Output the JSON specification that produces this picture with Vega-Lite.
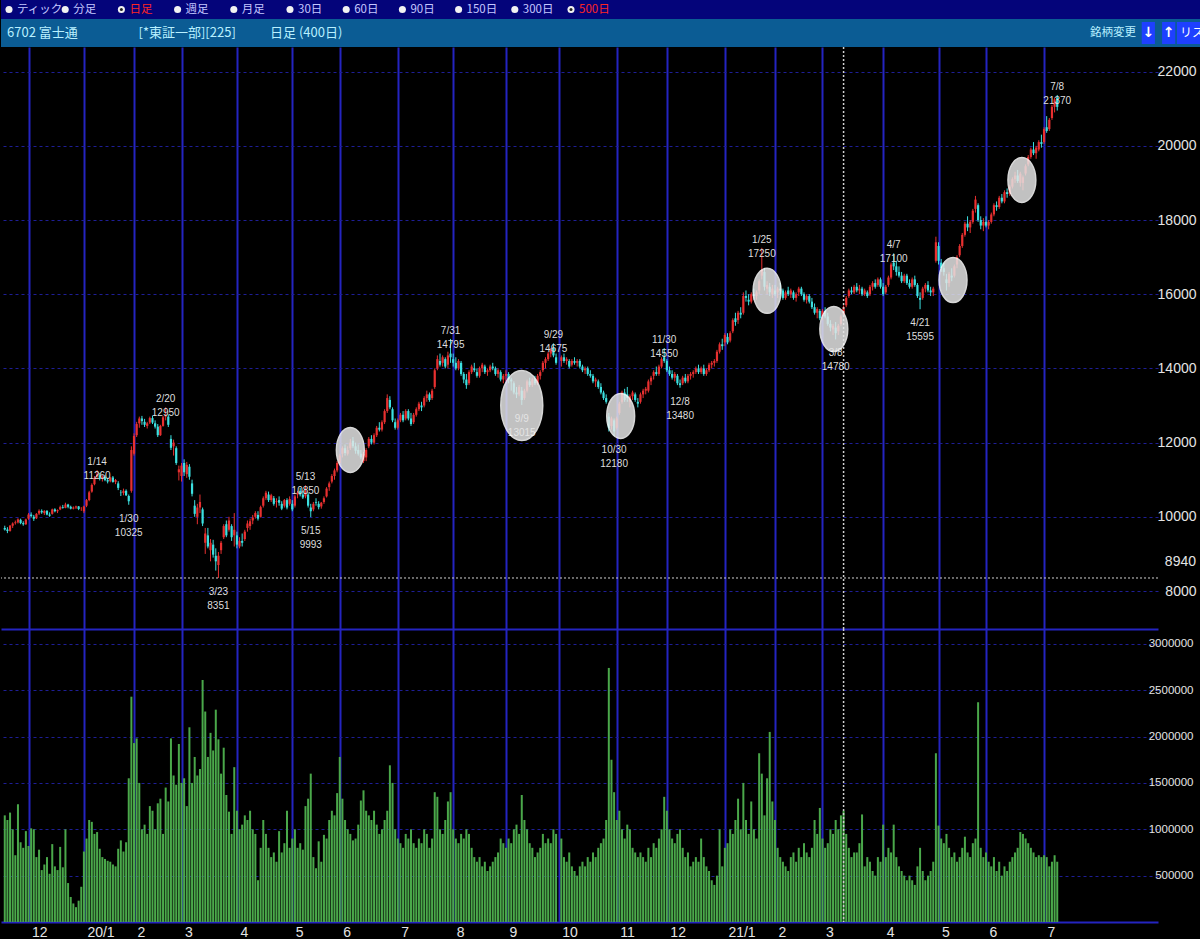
{
"$schema": "https://vega.github.io/schema/vega-lite/v6.json",
"background": "#000000",
"padding": 0,
"spacing": 0,
"bounds": "flush",
"config": {"view": {"stroke": null}, "axis": {"labelFont": "Liberation Sans Narrow, Liberation Sans, sans-serif", "labelColor": "#e4e4e4"}},
"datasets": {
"radio": [{"k":0,"t":"ティック","on":false},{"k":1,"t":"分足","on":false},{"k":2,"t":"日足","on":true},{"k":3,"t":"週足","on":false},{"k":4,"t":"月足","on":false},{"k":5,"t":"30日","on":false},{"k":6,"t":"60日","on":false},{"k":7,"t":"90日","on":false},{"k":8,"t":"150日","on":false},{"k":9,"t":"300日","on":false},{"k":10,"t":"500日","on":true}],
"head": [{"k":0,"t":"6702 富士通"},{"k":1,"t":"[*東証一部][225]"},{"k":2,"t":"日足   (400日)"}],
"btn": [{"b":-1,"t":"銘柄変更"},{"b":0,"t":"↓"},{"b":1,"t":"↑"},{"b":2,"t":"リスト"}],
"cursor": [{"i":318,"p":8351,"lab":"8940"}],
"marks": [{"i":131,"p":11800},{"i":196,"p":13000},{"i":233.5,"p":12720},{"i":289,"p":16090},{"i":314.3,"p":15060},{"i":359.5,"p":16380},{"i":385.6,"p":19080}],
"ann": [
{"i":35,"p":11260,"lbl":"1/14\n11260","k":"hi"},
{"i":47,"p":10325,"lbl":"1/30\n10325","k":"lo"},
{"i":61,"p":12950,"lbl":"2/20\n12950","k":"hi"},
{"i":81,"p":8351,"lbl":"3/23\n8351","k":"lo"},
{"i":114,"p":10850,"lbl":"5/13\n10850","k":"hi"},
{"i":116,"p":9993,"lbl":"5/15\n9993","k":"lo"},
{"i":169,"p":14795,"lbl":"7/31\n14795","k":"hi"},
{"i":196,"p":13015,"lbl":"9/9\n13015","k":"lo"},
{"i":208,"p":14675,"lbl":"9/29\n14675","k":"hi"},
{"i":231,"p":12180,"lbl":"10/30\n12180","k":"lo"},
{"i":250,"p":14550,"lbl":"11/30\n14550","k":"hi"},
{"i":256,"p":13480,"lbl":"12/8\n13480","k":"lo"},
{"i":287,"p":17250,"lbl":"1/25\n17250","k":"hi"},
{"i":315,"p":14780,"lbl":"3/8\n14780","k":"lo"},
{"i":337,"p":17100,"lbl":"4/7\n17100","k":"hi"},
{"i":347,"p":15595,"lbl":"4/21\n15595","k":"lo"},
{"i":399,"p":21370,"lbl":"7/8\n21370","k":"hi"}
],
"ohlc": [
{"i":0,"o":9700,"h":9760,"l":9630,"c":9660,"v":1150000},
{"i":1,"o":9660,"h":9720,"l":9560,"c":9620,"v":1100000},
{"i":2,"o":9620,"h":9780,"l":9600,"c":9760,"v":1180000},
{"i":3,"o":9760,"h":9850,"l":9700,"c":9820,"v":1000000},
{"i":4,"o":9830,"h":9900,"l":9790,"c":9850,"v":720000},
{"i":5,"o":9850,"h":9960,"l":9820,"c":9930,"v":1270000},
{"i":6,"o":9920,"h":9950,"l":9800,"c":9830,"v":860000},
{"i":7,"o":9830,"h":9880,"l":9760,"c":9800,"v":800000},
{"i":8,"o":9800,"h":9950,"l":9780,"c":9930,"v":980000},
{"i":9,"o":9950,"h":10100,"l":9920,"c":10060,"v":820000},
{"i":10,"o":10060,"h":10120,"l":9980,"c":10020,"v":1010000},
{"i":11,"o":10000,"h":10050,"l":9890,"c":9950,"v":1000000},
{"i":12,"o":9960,"h":10100,"l":9940,"c":10080,"v":700000},
{"i":13,"o":10090,"h":10200,"l":10050,"c":10160,"v":780000},
{"i":14,"o":10160,"h":10200,"l":10080,"c":10120,"v":560000},
{"i":15,"o":10100,"h":10180,"l":10050,"c":10160,"v":620000},
{"i":16,"o":10160,"h":10180,"l":10040,"c":10060,"v":700000},
{"i":17,"o":10060,"h":10120,"l":10000,"c":10030,"v":520000},
{"i":18,"o":10080,"h":10220,"l":10060,"c":10200,"v":840000},
{"i":19,"o":10200,"h":10230,"l":10120,"c":10150,"v":600000},
{"i":20,"o":10150,"h":10200,"l":10100,"c":10180,"v":560000},
{"i":21,"o":10200,"h":10300,"l":10180,"c":10260,"v":810000},
{"i":22,"o":10260,"h":10320,"l":10220,"c":10240,"v":590000},
{"i":23,"o":10240,"h":10380,"l":10230,"c":10330,"v":1000000},
{"i":24,"o":10330,"h":10350,"l":10230,"c":10270,"v":420000},
{"i":25,"o":10270,"h":10300,"l":10200,"c":10220,"v":270000},
{"i":26,"o":10220,"h":10280,"l":10200,"c":10250,"v":200000},
{"i":27,"o":10250,"h":10300,"l":10210,"c":10280,"v":160000},
{"i":28,"o":10280,"h":10290,"l":10180,"c":10210,"v":230000},
{"i":29,"o":10200,"h":10260,"l":10160,"c":10200,"v":380000},
{"i":30,"o":10150,"h":10300,"l":10100,"c":10280,"v":760000},
{"i":31,"o":10300,"h":10480,"l":10260,"c":10450,"v":900000},
{"i":32,"o":10450,"h":10700,"l":10420,"c":10660,"v":1100000},
{"i":33,"o":10680,"h":10900,"l":10650,"c":10860,"v":1080000},
{"i":34,"o":10880,"h":11100,"l":10850,"c":11050,"v":950000},
{"i":35,"o":11080,"h":11260,"l":11020,"c":11150,"v":970000},
{"i":36,"o":11120,"h":11180,"l":10980,"c":11020,"v":790000},
{"i":37,"o":11020,"h":11120,"l":10950,"c":11080,"v":700000},
{"i":38,"o":11080,"h":11120,"l":10960,"c":10990,"v":680000},
{"i":39,"o":10990,"h":11050,"l":10900,"c":10950,"v":660000},
{"i":40,"o":10960,"h":11080,"l":10930,"c":11060,"v":650000},
{"i":41,"o":11060,"h":11100,"l":10920,"c":10940,"v":620000},
{"i":42,"o":10940,"h":11020,"l":10880,"c":10990,"v":600000},
{"i":43,"o":10900,"h":10960,"l":10720,"c":10780,"v":790000},
{"i":44,"o":10650,"h":10720,"l":10560,"c":10640,"v":880000},
{"i":45,"o":10640,"h":10760,"l":10580,"c":10700,"v":760000},
{"i":46,"o":10700,"h":10740,"l":10560,"c":10580,"v":860000},
{"i":47,"o":10560,"h":10600,"l":10325,"c":10420,"v":1550000},
{"i":48,"o":10700,"h":11900,"l":10650,"c":11800,"v":2430000},
{"i":49,"o":11700,"h":12250,"l":11650,"c":12180,"v":1930000},
{"i":50,"o":12200,"h":12560,"l":12150,"c":12500,"v":1980000},
{"i":51,"o":12520,"h":12700,"l":12400,"c":12650,"v":1500000},
{"i":52,"o":12650,"h":12720,"l":12480,"c":12580,"v":1000000},
{"i":53,"o":12560,"h":12640,"l":12420,"c":12480,"v":1050000},
{"i":54,"o":12450,"h":12560,"l":12380,"c":12520,"v":950000},
{"i":55,"o":12540,"h":12700,"l":12500,"c":12660,"v":1250000},
{"i":56,"o":12660,"h":12720,"l":12500,"c":12540,"v":1200000},
{"i":57,"o":12520,"h":12600,"l":12380,"c":12430,"v":1000000},
{"i":58,"o":12430,"h":12500,"l":12150,"c":12200,"v":1280000},
{"i":59,"o":12200,"h":12480,"l":12180,"c":12450,"v":1330000},
{"i":60,"o":12450,"h":12720,"l":12430,"c":12680,"v":950000},
{"i":61,"o":12700,"h":12950,"l":12600,"c":12720,"v":1450000},
{"i":62,"o":12700,"h":12760,"l":12420,"c":12480,"v":1300000},
{"i":63,"o":12100,"h":12200,"l":11800,"c":11860,"v":1980000},
{"i":64,"o":11900,"h":12080,"l":11650,"c":12000,"v":1580000},
{"i":65,"o":11850,"h":11900,"l":11400,"c":11450,"v":1480000},
{"i":66,"o":11200,"h":11380,"l":10980,"c":11280,"v":1920000},
{"i":67,"o":11100,"h":11450,"l":10950,"c":11380,"v":1500000},
{"i":68,"o":11450,"h":11550,"l":11100,"c":11200,"v":1550000},
{"i":69,"o":11150,"h":11480,"l":11050,"c":11400,"v":1250000},
{"i":70,"o":11350,"h":11420,"l":11000,"c":11080,"v":2100000},
{"i":71,"o":10900,"h":11000,"l":10550,"c":10620,"v":1500000},
{"i":72,"o":10300,"h":10450,"l":10000,"c":10080,"v":1780000},
{"i":73,"o":10000,"h":10350,"l":9800,"c":10250,"v":1580000},
{"i":74,"o":10250,"h":10600,"l":10100,"c":10400,"v":1650000},
{"i":75,"o":10200,"h":10250,"l":9750,"c":9820,"v":2610000},
{"i":76,"o":9300,"h":9700,"l":9000,"c":9550,"v":2270000},
{"i":77,"o":9500,"h":9700,"l":9150,"c":9200,"v":1780000},
{"i":78,"o":9100,"h":9400,"l":8800,"c":9300,"v":2040000},
{"i":79,"o":9250,"h":9380,"l":8900,"c":8980,"v":1850000},
{"i":80,"o":8950,"h":9150,"l":8550,"c":8800,"v":2290000},
{"i":81,"o":8700,"h":9050,"l":8351,"c":8950,"v":1970000},
{"i":82,"o":9100,"h":9350,"l":9000,"c":9300,"v":1600000},
{"i":83,"o":9450,"h":9800,"l":9400,"c":9750,"v":1880000},
{"i":84,"o":9800,"h":9900,"l":9450,"c":9500,"v":1370000},
{"i":85,"o":9650,"h":10000,"l":9600,"c":9900,"v":1190000},
{"i":86,"o":9750,"h":9800,"l":9350,"c":9450,"v":950000},
{"i":87,"o":9500,"h":10100,"l":9200,"c":9650,"v":1670000},
{"i":88,"o":9500,"h":9600,"l":9150,"c":9250,"v":1200000},
{"i":89,"o":9200,"h":9450,"l":9150,"c":9350,"v":1000000},
{"i":90,"o":9350,"h":9550,"l":9200,"c":9300,"v":1050000},
{"i":91,"o":9400,"h":9650,"l":9350,"c":9600,"v":1150000},
{"i":92,"o":9700,"h":9900,"l":9600,"c":9820,"v":1100000},
{"i":93,"o":9750,"h":9950,"l":9650,"c":9880,"v":1200000},
{"i":94,"o":9900,"h":10050,"l":9800,"c":9980,"v":1000000},
{"i":95,"o":10000,"h":10150,"l":9950,"c":10100,"v":950000},
{"i":96,"o":10050,"h":10150,"l":9900,"c":9950,"v":450000},
{"i":97,"o":10000,"h":10300,"l":9980,"c":10260,"v":800000},
{"i":98,"o":10300,"h":10550,"l":10250,"c":10500,"v":1100000},
{"i":99,"o":10500,"h":10700,"l":10450,"c":10650,"v":950000},
{"i":100,"o":10600,"h":10680,"l":10400,"c":10450,"v":800000},
{"i":101,"o":10450,"h":10620,"l":10400,"c":10580,"v":700000},
{"i":102,"o":10500,"h":10560,"l":10300,"c":10350,"v":750000},
{"i":103,"o":10400,"h":10500,"l":10250,"c":10420,"v":650000},
{"i":104,"o":10450,"h":10550,"l":10300,"c":10380,"v":980000},
{"i":105,"o":10350,"h":10420,"l":10180,"c":10220,"v":750000},
{"i":106,"o":10300,"h":10480,"l":10250,"c":10450,"v":850000},
{"i":107,"o":10450,"h":10500,"l":10200,"c":10250,"v":1200000},
{"i":108,"o":10350,"h":10550,"l":10300,"c":10480,"v":800000},
{"i":109,"o":10350,"h":10450,"l":10150,"c":10200,"v":900000},
{"i":110,"o":10300,"h":10600,"l":10250,"c":10550,"v":1000000},
{"i":111,"o":10600,"h":10700,"l":10500,"c":10650,"v":800000},
{"i":112,"o":10700,"h":10780,"l":10550,"c":10600,"v":850000},
{"i":113,"o":10600,"h":10700,"l":10480,"c":10520,"v":780000},
{"i":114,"o":10550,"h":10850,"l":10500,"c":10700,"v":1250000},
{"i":115,"o":10600,"h":10650,"l":10250,"c":10300,"v":1330000},
{"i":116,"o":10250,"h":10350,"l":9993,"c":10150,"v":1600000},
{"i":117,"o":10200,"h":10400,"l":10150,"c":10350,"v":700000},
{"i":118,"o":10400,"h":10500,"l":10300,"c":10380,"v":580000},
{"i":119,"o":10350,"h":10420,"l":10200,"c":10260,"v":870000},
{"i":120,"o":10280,"h":10400,"l":10220,"c":10380,"v":650000},
{"i":121,"o":10400,"h":10550,"l":10350,"c":10500,"v":940000},
{"i":122,"o":10550,"h":10800,"l":10520,"c":10760,"v":900000},
{"i":123,"o":10800,"h":10950,"l":10700,"c":10900,"v":1100000},
{"i":124,"o":10950,"h":11150,"l":10900,"c":11100,"v":1200000},
{"i":125,"o":11100,"h":11300,"l":11000,"c":11250,"v":1150000},
{"i":126,"o":11250,"h":11500,"l":11200,"c":11450,"v":1390000},
{"i":127,"o":11450,"h":11700,"l":11400,"c":11650,"v":1780000},
{"i":128,"o":11700,"h":11900,"l":11600,"c":11850,"v":1330000},
{"i":129,"o":11850,"h":11950,"l":11650,"c":11720,"v":1100000},
{"i":130,"o":11700,"h":11900,"l":11650,"c":11800,"v":1000000},
{"i":131,"o":11850,"h":12100,"l":11800,"c":12000,"v":950000},
{"i":132,"o":12050,"h":12150,"l":11850,"c":11900,"v":880000},
{"i":133,"o":11900,"h":12000,"l":11700,"c":11780,"v":900000},
{"i":134,"o":11800,"h":11950,"l":11650,"c":11700,"v":1050000},
{"i":135,"o":11700,"h":11800,"l":11550,"c":11600,"v":1310000},
{"i":136,"o":11500,"h":11750,"l":11450,"c":11700,"v":1420000},
{"i":137,"o":11600,"h":11850,"l":11500,"c":11800,"v":1200000},
{"i":138,"o":11900,"h":12150,"l":11850,"c":12100,"v":1150000},
{"i":139,"o":12100,"h":12200,"l":11950,"c":12000,"v":1100000},
{"i":140,"o":12000,"h":12250,"l":11950,"c":12200,"v":1200000},
{"i":141,"o":12200,"h":12450,"l":12150,"c":12400,"v":1050000},
{"i":142,"o":12400,"h":12550,"l":12300,"c":12350,"v":950000},
{"i":143,"o":12350,"h":12600,"l":12300,"c":12550,"v":1000000},
{"i":144,"o":12550,"h":12900,"l":12500,"c":12850,"v":1100000},
{"i":145,"o":12850,"h":13300,"l":12800,"c":13200,"v":1200000},
{"i":146,"o":13150,"h":13250,"l":12900,"c":12950,"v":1690000},
{"i":147,"o":12900,"h":12950,"l":12550,"c":12600,"v":1500000},
{"i":148,"o":12550,"h":12650,"l":12350,"c":12400,"v":1000000},
{"i":149,"o":12400,"h":12650,"l":12350,"c":12600,"v":900000},
{"i":150,"o":12600,"h":12800,"l":12550,"c":12750,"v":850000},
{"i":151,"o":12750,"h":12850,"l":12550,"c":12600,"v":800000},
{"i":152,"o":12650,"h":12900,"l":12600,"c":12850,"v":950000},
{"i":153,"o":12850,"h":12900,"l":12600,"c":12650,"v":900000},
{"i":154,"o":12650,"h":12800,"l":12450,"c":12500,"v":1000000},
{"i":155,"o":12550,"h":12800,"l":12500,"c":12750,"v":850000},
{"i":156,"o":12750,"h":12950,"l":12700,"c":12900,"v":800000},
{"i":157,"o":12900,"h":13100,"l":12850,"c":13050,"v":900000},
{"i":158,"o":13000,"h":13100,"l":12850,"c":12950,"v":850000},
{"i":159,"o":13000,"h":13250,"l":12950,"c":13200,"v":1000000},
{"i":160,"o":13200,"h":13400,"l":13100,"c":13300,"v":950000},
{"i":161,"o":13300,"h":13350,"l":13100,"c":13150,"v":800000},
{"i":162,"o":13200,"h":13450,"l":13150,"c":13400,"v":900000},
{"i":163,"o":13500,"h":14000,"l":13450,"c":13950,"v":1400000},
{"i":164,"o":14000,"h":14350,"l":13950,"c":14250,"v":1350000},
{"i":165,"o":14200,"h":14400,"l":14050,"c":14100,"v":1000000},
{"i":166,"o":14150,"h":14350,"l":14050,"c":14300,"v":950000},
{"i":167,"o":14250,"h":14300,"l":14000,"c":14050,"v":1100000},
{"i":168,"o":14100,"h":14450,"l":14000,"c":14350,"v":1300000},
{"i":169,"o":14400,"h":14795,"l":14150,"c":14300,"v":1400000},
{"i":170,"o":14250,"h":14400,"l":14050,"c":14150,"v":1000000},
{"i":171,"o":14150,"h":14300,"l":13950,"c":14000,"v":900000},
{"i":172,"o":14000,"h":14250,"l":13950,"c":14200,"v":850000},
{"i":173,"o":14150,"h":14200,"l":13800,"c":13850,"v":950000},
{"i":174,"o":13850,"h":13900,"l":13600,"c":13700,"v":900000},
{"i":175,"o":13700,"h":13850,"l":13450,"c":13550,"v":1000000},
{"i":176,"o":13600,"h":13950,"l":13550,"c":13900,"v":950000},
{"i":177,"o":13900,"h":14100,"l":13850,"c":14050,"v":800000},
{"i":178,"o":14000,"h":14150,"l":13900,"c":13950,"v":700000},
{"i":179,"o":13900,"h":14000,"l":13750,"c":13800,"v":650000},
{"i":180,"o":13800,"h":14050,"l":13750,"c":14000,"v":700000},
{"i":181,"o":14000,"h":14150,"l":13900,"c":14100,"v":600000},
{"i":182,"o":14050,"h":14100,"l":13850,"c":13900,"v":650000},
{"i":183,"o":13900,"h":14000,"l":13800,"c":13950,"v":550000},
{"i":184,"o":13950,"h":14100,"l":13900,"c":14050,"v":600000},
{"i":185,"o":14050,"h":14150,"l":13950,"c":14000,"v":650000},
{"i":186,"o":14000,"h":14050,"l":13800,"c":13850,"v":700000},
{"i":187,"o":13850,"h":14000,"l":13750,"c":13950,"v":750000},
{"i":188,"o":13900,"h":13950,"l":13650,"c":13700,"v":900000},
{"i":189,"o":13700,"h":13850,"l":13600,"c":13800,"v":850000},
{"i":190,"o":13800,"h":13950,"l":13650,"c":13850,"v":800000},
{"i":191,"o":13850,"h":13900,"l":13600,"c":13700,"v":900000},
{"i":192,"o":13700,"h":13750,"l":13400,"c":13650,"v":850000},
{"i":193,"o":13600,"h":13650,"l":13300,"c":13350,"v":1000000},
{"i":194,"o":13350,"h":13500,"l":13200,"c":13300,"v":1050000},
{"i":195,"o":13300,"h":13550,"l":13250,"c":13500,"v":950000},
{"i":196,"o":13400,"h":13500,"l":13015,"c":13150,"v":1370000},
{"i":197,"o":13200,"h":13450,"l":13150,"c":13400,"v":1100000},
{"i":198,"o":13400,"h":13700,"l":13350,"c":13650,"v":1000000},
{"i":199,"o":13650,"h":13750,"l":13500,"c":13550,"v":850000},
{"i":200,"o":13550,"h":13750,"l":13500,"c":13700,"v":800000},
{"i":201,"o":13700,"h":13800,"l":13550,"c":13600,"v":700000},
{"i":202,"o":13600,"h":13850,"l":13550,"c":13800,"v":750000},
{"i":203,"o":13800,"h":13950,"l":13700,"c":13900,"v":800000},
{"i":204,"o":13950,"h":14200,"l":13900,"c":14150,"v":950000},
{"i":205,"o":14150,"h":14300,"l":14000,"c":14250,"v":850000},
{"i":206,"o":14250,"h":14450,"l":14200,"c":14400,"v":900000},
{"i":207,"o":14400,"h":14550,"l":14300,"c":14500,"v":850000},
{"i":208,"o":14550,"h":14675,"l":14300,"c":14350,"v":1000000},
{"i":209,"o":14300,"h":14400,"l":14100,"c":14150,"v":950000},
{"i":210,"o":14150,"h":14150,"l":14150,"c":14150,"v":0},
{"i":211,"o":14200,"h":14350,"l":14050,"c":14300,"v":900000},
{"i":212,"o":14300,"h":14400,"l":14150,"c":14200,"v":700000},
{"i":213,"o":14200,"h":14300,"l":14100,"c":14250,"v":650000},
{"i":214,"o":14200,"h":14250,"l":14000,"c":14050,"v":750000},
{"i":215,"o":14100,"h":14250,"l":14050,"c":14200,"v":600000},
{"i":216,"o":14200,"h":14300,"l":14100,"c":14150,"v":550000},
{"i":217,"o":14150,"h":14250,"l":14050,"c":14200,"v":500000},
{"i":218,"o":14200,"h":14250,"l":14000,"c":14050,"v":600000},
{"i":219,"o":14050,"h":14100,"l":13900,"c":13950,"v":650000},
{"i":220,"o":13950,"h":14050,"l":13850,"c":14000,"v":600000},
{"i":221,"o":14000,"h":14050,"l":13800,"c":13850,"v":700000},
{"i":222,"o":13850,"h":13950,"l":13750,"c":13800,"v":650000},
{"i":223,"o":13800,"h":13850,"l":13600,"c":13650,"v":750000},
{"i":224,"o":13650,"h":13750,"l":13500,"c":13700,"v":700000},
{"i":225,"o":13650,"h":13700,"l":13450,"c":13500,"v":800000},
{"i":226,"o":13500,"h":13600,"l":13300,"c":13350,"v":850000},
{"i":227,"o":13350,"h":13400,"l":13150,"c":13200,"v":900000},
{"i":228,"o":13200,"h":13300,"l":13050,"c":13100,"v":1100000},
{"i":229,"o":12700,"h":12800,"l":12300,"c":12400,"v":2740000},
{"i":230,"o":12450,"h":12700,"l":12350,"c":12650,"v":1750000},
{"i":231,"o":12600,"h":12650,"l":12180,"c":12300,"v":1400000},
{"i":232,"o":12400,"h":12700,"l":12350,"c":12650,"v":1100000},
{"i":233,"o":12800,"h":13100,"l":12750,"c":13050,"v":1200000},
{"i":234,"o":13100,"h":13400,"l":13050,"c":13350,"v":1000000},
{"i":235,"o":13350,"h":13450,"l":13100,"c":13150,"v":900000},
{"i":236,"o":13300,"h":13500,"l":13100,"c":13200,"v":1050000},
{"i":237,"o":13100,"h":13300,"l":12950,"c":13250,"v":1000000},
{"i":238,"o":13250,"h":13400,"l":13150,"c":13350,"v":800000},
{"i":239,"o":13300,"h":13350,"l":13100,"c":13150,"v":750000},
{"i":240,"o":13100,"h":13200,"l":12950,"c":13050,"v":700000},
{"i":241,"o":13100,"h":13350,"l":13050,"c":13300,"v":750000},
{"i":242,"o":13300,"h":13450,"l":13200,"c":13400,"v":700000},
{"i":243,"o":13400,"h":13500,"l":13300,"c":13450,"v":650000},
{"i":244,"o":13400,"h":13700,"l":13350,"c":13650,"v":800000},
{"i":245,"o":13650,"h":13800,"l":13550,"c":13750,"v":700000},
{"i":246,"o":13800,"h":13950,"l":13700,"c":13900,"v":850000},
{"i":247,"o":13900,"h":14050,"l":13800,"c":13850,"v":800000},
{"i":248,"o":13850,"h":14100,"l":13800,"c":14050,"v":900000},
{"i":249,"o":14050,"h":14300,"l":14000,"c":14250,"v":1000000},
{"i":250,"o":14300,"h":14550,"l":14150,"c":14200,"v":1350000},
{"i":251,"o":14200,"h":14250,"l":13900,"c":13950,"v":1200000},
{"i":252,"o":13950,"h":14050,"l":13800,"c":13850,"v":1000000},
{"i":253,"o":13850,"h":13950,"l":13700,"c":13750,"v":900000},
{"i":254,"o":13750,"h":13900,"l":13650,"c":13850,"v":850000},
{"i":255,"o":13800,"h":13850,"l":13550,"c":13600,"v":950000},
{"i":256,"o":13600,"h":13700,"l":13480,"c":13550,"v":1000000},
{"i":257,"o":13600,"h":13800,"l":13550,"c":13750,"v":800000},
{"i":258,"o":13750,"h":13850,"l":13600,"c":13650,"v":700000},
{"i":259,"o":13650,"h":13850,"l":13600,"c":13800,"v":750000},
{"i":260,"o":13800,"h":13900,"l":13700,"c":13850,"v":600000},
{"i":261,"o":13850,"h":13950,"l":13750,"c":13900,"v":650000},
{"i":262,"o":13900,"h":14050,"l":13850,"c":14000,"v":700000},
{"i":263,"o":14000,"h":14100,"l":13850,"c":13900,"v":650000},
{"i":264,"o":13900,"h":14050,"l":13850,"c":14000,"v":900000},
{"i":265,"o":14000,"h":14100,"l":13800,"c":13850,"v":700000},
{"i":266,"o":13850,"h":14000,"l":13800,"c":13950,"v":600000},
{"i":267,"o":13950,"h":14150,"l":13900,"c":14100,"v":550000},
{"i":268,"o":14100,"h":14200,"l":14000,"c":14150,"v":450000},
{"i":269,"o":14150,"h":14250,"l":14050,"c":14200,"v":400000},
{"i":270,"o":14200,"h":14500,"l":14150,"c":14450,"v":500000},
{"i":271,"o":14450,"h":14700,"l":14400,"c":14650,"v":1000000},
{"i":272,"o":14650,"h":14800,"l":14500,"c":14600,"v":600000},
{"i":273,"o":14700,"h":14950,"l":14600,"c":14900,"v":800000},
{"i":274,"o":14850,"h":14950,"l":14650,"c":14700,"v":850000},
{"i":275,"o":14750,"h":15000,"l":14700,"c":14950,"v":1000000},
{"i":276,"o":15000,"h":15350,"l":14950,"c":15300,"v":950000},
{"i":277,"o":15350,"h":15500,"l":15150,"c":15250,"v":1100000},
{"i":278,"o":15300,"h":15550,"l":15200,"c":15500,"v":1330000},
{"i":279,"o":15500,"h":15650,"l":15350,"c":15450,"v":1000000},
{"i":280,"o":15500,"h":16050,"l":15450,"c":15950,"v":1500000},
{"i":281,"o":15950,"h":16100,"l":15800,"c":15900,"v":1100000},
{"i":282,"o":15850,"h":16000,"l":15700,"c":15800,"v":950000},
{"i":283,"o":15800,"h":16050,"l":15750,"c":16000,"v":1300000},
{"i":284,"o":16000,"h":16150,"l":15850,"c":15950,"v":1000000},
{"i":285,"o":15950,"h":16100,"l":15850,"c":16050,"v":900000},
{"i":286,"o":16100,"h":16400,"l":16000,"c":16350,"v":1820000},
{"i":287,"o":16500,"h":17250,"l":16400,"c":16650,"v":1600000},
{"i":288,"o":16600,"h":16700,"l":16100,"c":16200,"v":1150000},
{"i":289,"o":16150,"h":16350,"l":16000,"c":16250,"v":1550000},
{"i":290,"o":16200,"h":16300,"l":15950,"c":16050,"v":2050000},
{"i":291,"o":16000,"h":16250,"l":15900,"c":16150,"v":1300000},
{"i":292,"o":16100,"h":16250,"l":15950,"c":16000,"v":1100000},
{"i":293,"o":16050,"h":16200,"l":15900,"c":16150,"v":800000},
{"i":294,"o":16150,"h":16300,"l":16000,"c":16100,"v":700000},
{"i":295,"o":16100,"h":16150,"l":15850,"c":15900,"v":650000},
{"i":296,"o":15900,"h":16100,"l":15850,"c":16050,"v":600000},
{"i":297,"o":16100,"h":16200,"l":15950,"c":16000,"v":550000},
{"i":298,"o":16000,"h":16150,"l":15900,"c":16100,"v":700000},
{"i":299,"o":16050,"h":16100,"l":15850,"c":15900,"v":750000},
{"i":300,"o":15900,"h":16050,"l":15800,"c":16000,"v":650000},
{"i":301,"o":16050,"h":16200,"l":15950,"c":16150,"v":800000},
{"i":302,"o":16150,"h":16200,"l":15950,"c":16000,"v":700000},
{"i":303,"o":16000,"h":16050,"l":15800,"c":15850,"v":850000},
{"i":304,"o":15850,"h":16000,"l":15750,"c":15950,"v":750000},
{"i":305,"o":15950,"h":16000,"l":15750,"c":15800,"v":700000},
{"i":306,"o":15800,"h":15900,"l":15600,"c":15650,"v":800000},
{"i":307,"o":15650,"h":15750,"l":15450,"c":15500,"v":1100000},
{"i":308,"o":15500,"h":15650,"l":15350,"c":15600,"v":950000},
{"i":309,"o":15550,"h":15600,"l":15300,"c":15350,"v":1230000},
{"i":310,"o":15400,"h":15600,"l":15300,"c":15550,"v":900000},
{"i":311,"o":15550,"h":15650,"l":15350,"c":15400,"v":800000},
{"i":312,"o":15400,"h":15500,"l":15150,"c":15200,"v":850000},
{"i":313,"o":15200,"h":15300,"l":15000,"c":15100,"v":1000000},
{"i":314,"o":15050,"h":15200,"l":14900,"c":15150,"v":950000},
{"i":315,"o":15100,"h":15250,"l":14780,"c":14950,"v":1100000},
{"i":316,"o":15000,"h":15200,"l":14900,"c":15150,"v":1000000},
{"i":317,"o":15200,"h":15450,"l":15150,"c":15400,"v":1150000},
{"i":318,"o":15450,"h":15700,"l":15400,"c":15650,"v":1200000},
{"i":319,"o":15700,"h":15950,"l":15650,"c":15900,"v":950000},
{"i":320,"o":15950,"h":16150,"l":15900,"c":16100,"v":800000},
{"i":321,"o":16100,"h":16200,"l":16000,"c":16050,"v":700000},
{"i":322,"o":16050,"h":16250,"l":16000,"c":16200,"v":750000},
{"i":323,"o":16200,"h":16300,"l":16050,"c":16100,"v":750000},
{"i":324,"o":16100,"h":16250,"l":16000,"c":16150,"v":850000},
{"i":325,"o":16150,"h":16200,"l":15950,"c":16000,"v":1160000},
{"i":326,"o":16000,"h":16150,"l":15950,"c":16100,"v":600000},
{"i":327,"o":16050,"h":16100,"l":15900,"c":15950,"v":700000},
{"i":328,"o":16000,"h":16250,"l":15950,"c":16200,"v":650000},
{"i":329,"o":16200,"h":16350,"l":16100,"c":16300,"v":550000},
{"i":330,"o":16300,"h":16400,"l":16150,"c":16200,"v":500000},
{"i":331,"o":16250,"h":16450,"l":16200,"c":16400,"v":700000},
{"i":332,"o":16400,"h":16450,"l":16150,"c":16200,"v":650000},
{"i":333,"o":16200,"h":16300,"l":15950,"c":16000,"v":1050000},
{"i":334,"o":16050,"h":16250,"l":16000,"c":16200,"v":700000},
{"i":335,"o":16250,"h":16500,"l":16200,"c":16450,"v":800000},
{"i":336,"o":16450,"h":16850,"l":16400,"c":16800,"v":750000},
{"i":337,"o":16850,"h":17100,"l":16650,"c":16750,"v":1050000},
{"i":338,"o":16750,"h":16900,"l":16500,"c":16600,"v":700000},
{"i":339,"o":16600,"h":16750,"l":16450,"c":16500,"v":600000},
{"i":340,"o":16500,"h":16600,"l":16300,"c":16350,"v":550000},
{"i":341,"o":16350,"h":16550,"l":16300,"c":16500,"v":500000},
{"i":342,"o":16500,"h":16550,"l":16250,"c":16300,"v":450000},
{"i":343,"o":16300,"h":16400,"l":16150,"c":16200,"v":500000},
{"i":344,"o":16200,"h":16450,"l":16150,"c":16400,"v":450000},
{"i":345,"o":16400,"h":16500,"l":16200,"c":16250,"v":400000},
{"i":346,"o":16250,"h":16300,"l":15900,"c":15950,"v":600000},
{"i":347,"o":15900,"h":16050,"l":15595,"c":15850,"v":800000},
{"i":348,"o":15900,"h":16200,"l":15850,"c":16150,"v":550000},
{"i":349,"o":16150,"h":16300,"l":16050,"c":16250,"v":450000},
{"i":350,"o":16250,"h":16350,"l":16050,"c":16100,"v":500000},
{"i":351,"o":16100,"h":16200,"l":15950,"c":16050,"v":550000},
{"i":352,"o":16050,"h":16200,"l":15950,"c":16150,"v":650000},
{"i":353,"o":16900,"h":17550,"l":16850,"c":17400,"v":1820000},
{"i":354,"o":17300,"h":17400,"l":16800,"c":16900,"v":1040000},
{"i":355,"o":16850,"h":16950,"l":16600,"c":16700,"v":900000},
{"i":356,"o":16700,"h":16850,"l":16500,"c":16600,"v":850000},
{"i":357,"o":16400,"h":16550,"l":16100,"c":16300,"v":950000},
{"i":358,"o":16300,"h":16600,"l":16200,"c":16550,"v":800000},
{"i":359,"o":16500,"h":16700,"l":16350,"c":16450,"v":700000},
{"i":360,"o":16500,"h":16800,"l":16450,"c":16750,"v":750000},
{"i":361,"o":16800,"h":17050,"l":16700,"c":17000,"v":650000},
{"i":362,"o":17050,"h":17350,"l":17000,"c":17300,"v":700000},
{"i":363,"o":17300,"h":17650,"l":17250,"c":17600,"v":800000},
{"i":364,"o":17600,"h":17950,"l":17550,"c":17900,"v":920000},
{"i":365,"o":17900,"h":18100,"l":17700,"c":17800,"v":750000},
{"i":366,"o":17800,"h":18000,"l":17650,"c":17950,"v":700000},
{"i":367,"o":17950,"h":18300,"l":17900,"c":18250,"v":850000},
{"i":368,"o":18300,"h":18650,"l":18200,"c":18550,"v":900000},
{"i":369,"o":18400,"h":18450,"l":17950,"c":18000,"v":2370000},
{"i":370,"o":18000,"h":18100,"l":17750,"c":17850,"v":800000},
{"i":371,"o":17850,"h":18050,"l":17700,"c":17950,"v":700000},
{"i":372,"o":17950,"h":18100,"l":17800,"c":17850,"v":750000},
{"i":373,"o":17850,"h":18000,"l":17750,"c":17950,"v":650000},
{"i":374,"o":17950,"h":18200,"l":17900,"c":18150,"v":600000},
{"i":375,"o":18150,"h":18450,"l":18100,"c":18400,"v":700000},
{"i":376,"o":18400,"h":18500,"l":18250,"c":18350,"v":550000},
{"i":377,"o":18350,"h":18650,"l":18300,"c":18600,"v":650000},
{"i":378,"o":18600,"h":18700,"l":18450,"c":18500,"v":500000},
{"i":379,"o":18500,"h":18800,"l":18450,"c":18750,"v":600000},
{"i":380,"o":18750,"h":18850,"l":18600,"c":18700,"v":550000},
{"i":381,"o":18700,"h":18950,"l":18650,"c":18900,"v":650000},
{"i":382,"o":18900,"h":19150,"l":18850,"c":19100,"v":700000},
{"i":383,"o":19100,"h":19300,"l":19000,"c":19200,"v":750000},
{"i":384,"o":19200,"h":19350,"l":19000,"c":19050,"v":800000},
{"i":385,"o":19000,"h":19300,"l":18900,"c":19250,"v":970000},
{"i":386,"o":19000,"h":19200,"l":18800,"c":19150,"v":950000},
{"i":387,"o":19250,"h":19500,"l":19200,"c":19450,"v":900000},
{"i":388,"o":19500,"h":19750,"l":19450,"c":19700,"v":850000},
{"i":389,"o":19700,"h":19950,"l":19650,"c":19900,"v":800000},
{"i":390,"o":19900,"h":20100,"l":19750,"c":19800,"v":750000},
{"i":391,"o":19800,"h":20000,"l":19650,"c":19950,"v":700000},
{"i":392,"o":19900,"h":20150,"l":19850,"c":20100,"v":720000},
{"i":393,"o":20100,"h":20300,"l":19950,"c":20050,"v":700000},
{"i":394,"o":20100,"h":20500,"l":20050,"c":20450,"v":720000},
{"i":395,"o":20500,"h":20800,"l":20350,"c":20400,"v":700000},
{"i":396,"o":20450,"h":20750,"l":20400,"c":20700,"v":600000},
{"i":397,"o":20750,"h":21100,"l":20700,"c":21050,"v":650000},
{"i":398,"o":21050,"h":21300,"l":20900,"c":21250,"v":720000},
{"i":399,"o":21300,"h":21370,"l":20950,"c":21050,"v":650000}
]
},
"vconcat": [
{
"width": 1200, "height": 19,
"view": {"fill": "#04047a", "stroke": null},
"data": {"name": "radio"},
"encoding": {"x": {"field": "k", "type": "ordinal", "scale": {"type": "point", "padding": 0, "domain": [0,1,2,3,4,5,6,7,8,9,10], "range": [8, 570]}, "axis": null}},
"layer": [
{"mark": {"type": "point", "filled": true, "size": 50, "color": "#f2f2f2", "opacity": 1}},
{"transform": [{"filter": "datum.on"}], "mark": {"type": "point", "filled": true, "size": 9, "color": "#202020", "opacity": 1}},
{"mark": {"type": "text", "align": "left", "dx": 8, "fontSize": 11.5, "font": "Noto Sans CJK JP"}, "encoding": {"text": {"field": "t"}, "color": {"condition": {"test": "datum.on", "value": "#ff2424"}, "value": "#c4c8ff"}}}
]
},
{
"width": 1200, "height": 28,
"view": {"fill": "#0b5c94", "stroke": null},
"resolve": {"scale": {"x": "independent"}},
"layer": [
{"data": {"name": "head"}, "mark": {"type": "text", "align": "left", "fontSize": 13, "font": "Noto Sans CJK JP", "color": "#b8f0ff"}, "encoding": {"x": {"field": "k", "type": "ordinal", "scale": {"type": "point", "padding": 0, "domain": [0,1,2], "range": [6, 269]}, "axis": null}, "text": {"field": "t"}}},
{"data": {"name": "btn"}, "transform": [{"filter": "datum.b == 0 || datum.b == 1"}], "mark": {"type": "point", "shape": "M-0.3,-0.5H0.3V0.5H-0.3Z", "filled": true, "size": 1936, "color": "#1e40ff", "opacity": 1}, "encoding": {"x": {"field": "b", "type": "ordinal", "scale": {"type": "point", "padding": 0, "domain": [-1,0,1,2], "range": [1127, 1188]}, "axis": null}}},
{"data": {"name": "btn"}, "transform": [{"filter": "datum.b == 2"}], "mark": {"type": "point", "shape": "M-0.55,-0.5H0.55V0.5H-0.55Z", "filled": true, "size": 1936, "color": "#1e40ff", "opacity": 1}, "encoding": {"x": {"field": "b", "type": "ordinal", "scale": {"type": "point", "padding": 0, "domain": [-1,0,1,2], "range": [1127, 1188]}, "axis": null}}},
{"data": {"name": "btn"}, "transform": [{"filter": "datum.b == 0 || datum.b == 1"}], "mark": {"type": "text", "fontSize": 14, "fontWeight": "bold", "font": "DejaVu Sans", "color": "#ffffff"}, "encoding": {"x": {"field": "b", "type": "ordinal", "scale": {"type": "point", "padding": 0, "domain": [-1,0,1,2], "range": [1127, 1188]}, "axis": null}, "text": {"field": "t"}}},
{"data": {"name": "btn"}, "transform": [{"filter": "datum.b == 2"}], "mark": {"type": "text", "align": "left", "dx": -9, "fontSize": 12, "font": "Noto Sans CJK JP", "color": "#ffffff"}, "encoding": {"x": {"field": "b", "type": "ordinal", "scale": {"type": "point", "padding": 0, "domain": [-1,0,1,2], "range": [1127, 1188]}, "axis": null}, "text": {"field": "t"}}},
{"data": {"name": "btn"}, "transform": [{"filter": "datum.b < 0"}], "mark": {"type": "text", "align": "right", "dx": 8, "fontSize": 11.5, "font": "Noto Sans CJK JP", "color": "#b8f0ff"}, "encoding": {"x": {"field": "b", "type": "ordinal", "scale": {"type": "point", "padding": 0, "domain": [-1,0,1,2], "range": [1127, 1188]}, "axis": null}, "text": {"field": "t"}}}
]
},
{
"width": 1157, "height": 582,
"layer": [
{"data": {"name": "ohlc"}, "mark": {"type": "rule", "strokeWidth": 1},
 "encoding": {
  "x": {"field": "i", "type": "quantitative", "scale": {"domain": [-1.43, 437.2], "nice": false, "zero": false, "padding": 0},
        "axis": {"values": [9,30,49,67,88,109,127,149,170,190,210,232,251,273,292,310,333,354,372,394], "title": null, "labels": false, "ticks": false, "tickSize": 0, "grid": true, "gridColor": "#2424c0", "gridWidth": 2, "domain": true, "domainColor": "#2424c0", "domainWidth": 2}},
  "y": {"field": "l", "type": "quantitative", "scale": {"domain": [6976, 22663], "nice": false, "zero": false},
        "axis": {"orient": "right", "values": [8000,10000,12000,14000,16000,18000,20000,22000], "title": null, "ticks": false, "tickSize": 0, "domain": false, "grid": true, "gridColor": "#1e1e96", "gridDash": [3,3], "gridWidth": 1, "labelAlign": "right", "labelPadding": 38, "labelFontSize": 14, "labelFlush": false, "labelOverlap": false, "labelBound": false, "format": "d"}},
  "y2": {"field": "h"},
  "color": {"condition": {"test": "datum.c >= datum.o", "value": "#e83030"}, "value": "#3ce0e0"}
 }},
{"data": {"name": "ohlc"}, "mark": {"type": "bar", "size": 2.2},
 "encoding": {
  "x": {"field": "i", "type": "quantitative"},
  "y": {"field": "o", "type": "quantitative"},
  "y2": {"field": "c"},
  "color": {"condition": {"test": "datum.c >= datum.o", "value": "#e83030"}, "value": "#3ce0e0"}
 }},
{"data": {"name": "cursor"}, "mark": {"type": "rule", "color": "#d0d0d0", "strokeDash": [2,2], "strokeWidth": 1}, "encoding": {"y": {"field": "p", "type": "quantitative"}}},
{"data": {"name": "cursor"}, "mark": {"type": "rule", "color": "#d0d0d0", "strokeDash": [2,2], "strokeWidth": 1.5}, "encoding": {"x": {"field": "i", "type": "quantitative"}}},
{"data": {"name": "cursor"}, "mark": {"type": "text", "align": "right", "dx": 38, "dy": -16, "fontSize": 14, "font": "Liberation Sans Narrow, Liberation Sans, sans-serif", "color": "#e4e4e4"}, "encoding": {"x": {"value": "width"}, "y": {"field": "p", "type": "quantitative"}, "text": {"field": "lab"}}},
{"data": {"name": "ann"}, "transform": [{"filter": "datum.k == 'hi'"}], "mark": {"type": "text", "baseline": "bottom", "dy": -3, "fontSize": 10, "lineHeight": 14, "lineBreak": "\n", "color": "#dedede", "font": "Liberation Sans Narrow, Liberation Sans, sans-serif"}, "encoding": {"x": {"field": "i", "type": "quantitative"}, "y": {"field": "p", "type": "quantitative"}, "text": {"field": "lbl"}}},
{"data": {"name": "ann"}, "transform": [{"filter": "datum.k == 'lo'"}], "mark": {"type": "text", "baseline": "top", "dy": 9, "fontSize": 10, "lineHeight": 14, "lineBreak": "\n", "color": "#dedede", "font": "Liberation Sans Narrow, Liberation Sans, sans-serif"}, "encoding": {"x": {"field": "i", "type": "quantitative"}, "y": {"field": "p", "type": "quantitative"}, "text": {"field": "lbl"}}},
{"data": {"name": "marks"}, "transform": [{"filter": "datum.i != 196"}], "mark": {"type": "point", "shape": "M0,-1A0.62,1 0 1,1 0,1A0.62,1 0 1,1 0,-1Z", "filled": true, "size": 2025, "color": "#e6e6e6", "opacity": 0.84, "stroke": "#ffffff", "strokeWidth": 1.5}, "encoding": {"x": {"field": "i", "type": "quantitative"}, "y": {"field": "p", "type": "quantitative"}}},
{"data": {"name": "marks"}, "transform": [{"filter": "datum.i == 196"}], "mark": {"type": "point", "shape": "M0,-1A0.6,1 0 1,1 0,1A0.6,1 0 1,1 0,-1Z", "filled": true, "size": 4900, "color": "#e6e6e6", "opacity": 0.84, "stroke": "#ffffff", "strokeWidth": 1.5}, "encoding": {"x": {"field": "i", "type": "quantitative"}, "y": {"field": "p", "type": "quantitative"}}}
]
},
{
"width": 1157, "height": 293,
"layer": [
{"data": {"name": "ohlc"}, "mark": {"type": "bar", "size": 2, "color": "#4aa84a"},
 "encoding": {
  "x": {"field": "i", "type": "quantitative", "scale": {"domain": [-1.43, 437.2], "nice": false, "zero": false, "padding": 0},
        "axis": {"values": [9,30,49,67,88,109,127,149,170,190,210,232,251,273,292,310,333,354,372,394], "title": null, "ticks": false, "tickSize": 0, "grid": true, "gridColor": "#2424c0", "gridWidth": 2, "domain": true, "domainColor": "#2424c0", "domainWidth": 2, "labelAlign": "left", "labelBaseline": "top", "labelOffset": 3, "labelPadding": 3, "labelFontSize": 14, "labelFlush": false, "labelOverlap": false, "labelBound": false,
        "labelExpr": "['12','20/1','2','3','4','5','6','7','8','9','10','11','12','21/1','2','3','4','5','6','7'][indexof([9,30,49,67,88,109,127,149,170,190,210,232,251,273,292,310,333,354,372,394], datum.value)]"}},
  "y": {"field": "v", "type": "quantitative", "scale": {"domain": [0, 3160000], "nice": false},
        "axis": {"orient": "right", "values": [500000,1000000,1500000,2000000,2500000,3000000], "title": null, "ticks": false, "tickSize": 0, "domain": false, "grid": true, "gridColor": "#1e1e96", "gridDash": [3,3], "gridWidth": 1, "labelAlign": "right", "labelPadding": 35, "labelFontSize": 11.5, "labelFlush": false, "labelOverlap": false, "labelBound": false, "format": "d"}}
 }},
{"data": {"name": "cursor"}, "mark": {"type": "rule", "color": "#d0d0d0", "strokeDash": [2,2], "strokeWidth": 1.5}, "encoding": {"x": {"field": "i", "type": "quantitative"}}}
]
}
]
}
